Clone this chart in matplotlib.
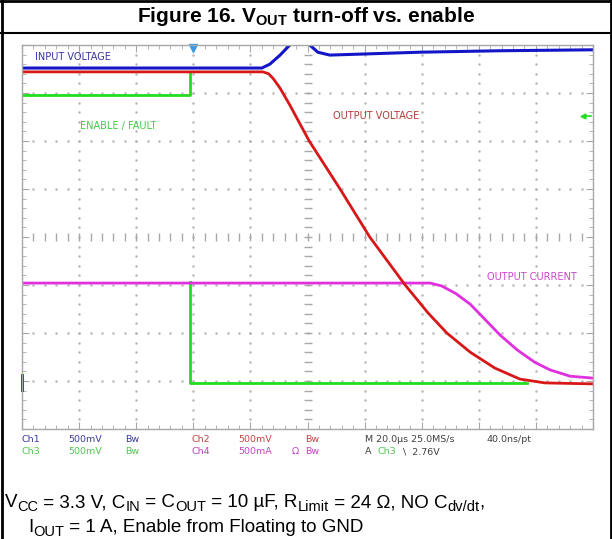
import matplotlib
matplotlib.use("Agg")
import matplotlib.pyplot as plt
import numpy as np

plt.rcParams['font.family'] = ['Liberation Sans', 'DejaVu Sans']
plt.rcParams['mathtext.fontset'] = 'custom'
plt.rcParams['mathtext.rm'] = 'Liberation Sans'

# scope traces, x and y in screen divisions (10 x 8)
blue_x = [0, 4.2, 4.34, 4.52, 4.69, 4.85, 5.04, 5.18, 5.39, 5.92, 6.97, 8.37, 10]
blue_y = [7.52, 7.52, 7.6, 7.79, 8.0, 8.3, 8.0, 7.85, 7.79, 7.81, 7.85, 7.88, 7.9]

red_x = [0, 4.22, 4.32, 4.4, 4.52, 4.69, 5.03, 5.57, 6.09, 6.71, 7.11, 7.44, 7.85, 8.28, 8.72, 9.16, 10]
red_y = [7.44, 7.44, 7.4, 7.3, 7.1, 6.75, 6.0, 5.0, 4.0, 3.0, 2.42, 2.0, 1.6, 1.27, 1.04, 0.96, 0.94]

green_x = [0, 2.95, 2.95, np.nan, 2.95, 2.95, 8.84]
green_y = [6.96, 6.96, 7.42, np.nan, 3.06, 0.96, 0.96]

mag_x = [0, 7.15, 7.35, 7.6, 7.85, 8.07, 8.37, 8.67, 8.98, 9.25, 9.6, 10]
mag_y = [3.04, 3.04, 2.98, 2.82, 2.6, 2.33, 1.96, 1.65, 1.39, 1.23, 1.1, 1.06]

# caption pieces: (text, subscript?)
cap1 = [('V', 0), ('CC', 1), (' = 3.3 V, C', 0), ('IN', 1), (' = C', 0), ('OUT', 1),
        (' = 10 \u00b5F, R', 0), ('Limit', 1), (' = 24 \u03a9, NO C', 0), ('dv/dt', 1), (',', 0)]
cap2 = [('I', 0), ('OUT', 1), (' = 1 A, Enable from Floating to GND', 0)]

fig = plt.figure(figsize=(6.12, 5.39), dpi=100)
W, H = 612, 539
ax = fig.add_axes([22 / W, (H - 429) / H, 571 / W, 384 / H])
ax.set_xlim(0, 10)
ax.set_ylim(0, 8)

gc = '#a8a8a8'
for s in ax.spines.values():
    s.set_color(gc)
    s.set_linewidth(1)
ax.set_xticks(range(11))
ax.set_yticks(range(9))
ax.set_xticks(np.arange(0, 10.01, 0.2), minor=True)
ax.set_yticks(np.arange(0, 8.01, 0.2), minor=True)
ax.tick_params(which='both', direction='in', top=True, right=True, color=gc,
               labelbottom=False, labelleft=False)
ax.tick_params(which='major', length=5)
ax.tick_params(which='minor', length=3)

# dotted grid
for gx in range(1, 10):
    if gx == 5:
        continue
    yy = np.arange(0.2, 8, 0.2)
    ax.plot([gx] * len(yy), yy, ls='none', marker='.', ms=1.6, color='#b8b8b8')
for gy in range(1, 8):
    if gy == 4:
        continue
    xx = np.arange(0.2, 10, 0.2)
    ax.plot(xx, [gy] * len(xx), ls='none', marker='.', ms=1.6, color='#b8b8b8')
# centre cross with ticks
yy = np.arange(0.2, 8, 0.2)
ax.plot([5] * len(yy), yy, ls='none', marker='_', ms=6, mew=1, color=gc)
xx = np.arange(0.2, 10, 0.2)
ax.plot(xx, [4] * len(xx), ls='none', marker='|', ms=6, mew=1, color=gc)

ax.plot(green_x, green_y, color='#22dd22', lw=2)
ax.plot(mag_x, mag_y, color='#e030e0', lw=2)
ax.plot(blue_x, blue_y, color='#1515c8', lw=2.2)
ax.plot(red_x, red_y, color='#d81818', lw=2)

# markers
ax.plot([3.0], [7.93], marker='v', ms=6, color='#3a9ae8', clip_on=False)
ax.plot([0, 0], [0.82, 1.12], color='#1515c8', lw=2, clip_on=False)
ax.plot([9.82], [6.52], marker='<', ms=3.5, color='#22dd22')
ax.plot([9.82, 9.97], [6.52, 6.52], color='#22dd22', lw=1.2)

lf = dict(fontsize=7, va='center', ha='left', family='DejaVu Sans')
ax.text(0.23, 7.75, 'INPUT VOLTAGE', color='#3535a5', **lf)
ax.text(1.02, 6.31, 'ENABLE / FAULT', color='#40cc40', **lf)
ax.text(5.45, 6.52, 'OUTPUT VOLTAGE', color='#b83838', **lf)
ax.text(8.14, 3.17, 'OUTPUT CURRENT', color='#cc44cc', **lf)

# scope readout
rf = dict(fontsize=6.8, va='center', ha='left', family='DejaVu Sans')
def t(px, py, s, c):
    fig.text(px / W, 1 - py / H, s, color=c, **rf)

navy, red, green, mag, dark = '#3a3aa0', '#c04545', '#50c850', '#c045c0', '#404040'
t(22, 440, 'Ch1', navy)
t(68, 440, '500mV', navy)
t(125, 440, 'Bw', navy)
t(192, 440, 'Ch2', red)
t(238, 440, '500mV', red)
t(305, 440, 'Bw', red)
t(365, 440, 'M 20.0\u00b5s 25.0MS/s', dark)
t(487, 440, '40.0ns/pt', dark)
t(22, 452, 'Ch3', green)
t(68, 452, '500mV', green)
t(125, 452, 'Bw', green)
t(192, 452, 'Ch4', mag)
t(238, 452, '500mA', mag)
t(292, 452, '\u03a9', mag)
t(305, 452, 'Bw', mag)
t(365, 452, 'A', dark)
t(377, 452, 'Ch3', green)
t(403, 452, '\\  2.76V', dark)

# title
fig.text(0.5, 1 - 16 / H, r'Figure 16. V$_{\mathregular{OUT}}$ turn-off vs. enable',
         ha='center', va='center', fontsize=15, fontweight='bold')

# caption built piece by piece so subscripts can be larger than mathtext's
r = fig.canvas.get_renderer()
def caption(pieces, x0, base):
    x = x0
    for s, sub in pieces:
        y = base + (4 if sub else 0)
        tx = fig.text(x / W, 1 - y / H, s, ha='left', va='baseline',
                      fontsize=10.5 if sub else 13.5)
        x += tx.get_window_extent(r).width

caption(cap1, 5, 507)
caption(cap2, 28, 532)

# frame
fig.add_artist(plt.Line2D([0, 1], [1 - 33 / H, 1 - 33 / H], color='black', lw=1.5))
fig.add_artist(plt.Line2D([1.5 / W, 1.5 / W], [0, 1], color='black', lw=2))
fig.add_artist(plt.Line2D([610.5 / W, 610.5 / W], [0, 1], color='black', lw=2))
fig.add_artist(plt.Line2D([0, 1], [1 - 1 / H, 1 - 1 / H], color='black', lw=2))

fig.savefig('out.png', dpi=100)
